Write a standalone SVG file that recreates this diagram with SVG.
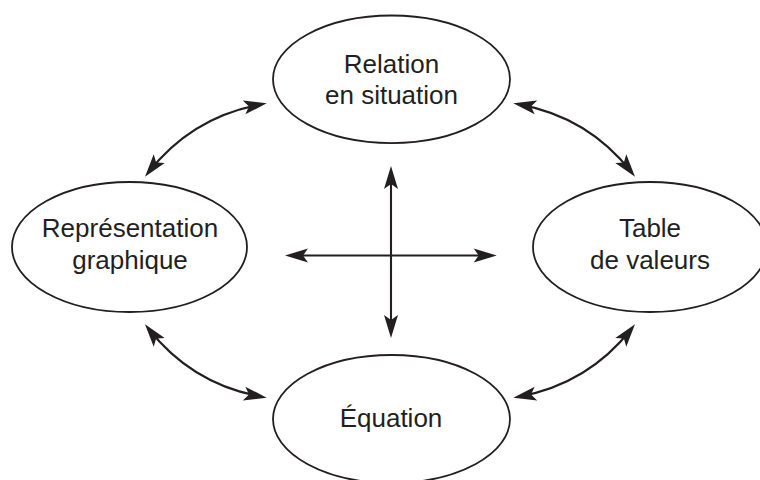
<svg xmlns="http://www.w3.org/2000/svg" width="760" height="480" viewBox="0 0 760 480">
<style>
.node ellipse{fill:#fff;stroke:#231f20;stroke-width:1.8}
.node text{font-family:"Liberation Sans",Arial,sans-serif;font-size:26px;fill:#231f20;text-anchor:middle}
.conn path{fill:none;stroke:#231f20;stroke-width:2.1;marker-start:url(#ah);marker-end:url(#ah)}
</style>
<defs>
<marker id="ah" markerUnits="userSpaceOnUse" viewBox="-24 -8 30 16" markerWidth="30" markerHeight="16" refX="0" refY="0" orient="auto-start-reverse" overflow="visible">
<path d="M6,0 L-17,-7 L-12,0 L-17,7 Z" fill="#231f20"/>
</marker>
</defs>
<rect width="760" height="480" fill="#fff"/>
<g id="n-relation" class="node">
<ellipse cx="391.5" cy="79.3" rx="118.5" ry="63.8"/>
<text x="391.5" y="73">Relation</text>
<text x="391.5" y="104">en situation</text>
</g>
<g id="n-representation" class="node">
<ellipse cx="129.5" cy="247" rx="117.5" ry="65"/>
<text x="130" y="237">Représentation</text>
<text x="130" y="269">graphique</text>
</g>
<g id="n-table" class="node">
<ellipse cx="650" cy="247" rx="117" ry="65"/>
<text x="650" y="237">Table</text>
<text x="650" y="269">de valeurs</text>
</g>
<g id="n-equation" class="node">
<ellipse cx="391.5" cy="419" rx="118.5" ry="64"/>
<text x="391" y="427">Équation</text>
</g>
<g id="connectors" class="conn">
<path d="M260.8,104.4 Q192,117 148.7,172"/>
<path d="M519.2,104.4 Q588,117 631.3,172"/>
<path d="M260.8,396.6 Q192,384 148.7,329"/>
<path d="M519.2,396.6 Q588,384 631.3,329"/>
<path d="M391,172 L391,332"/>
<path d="M291,255.5 L490.7,255.5"/>
</g>
</svg>
